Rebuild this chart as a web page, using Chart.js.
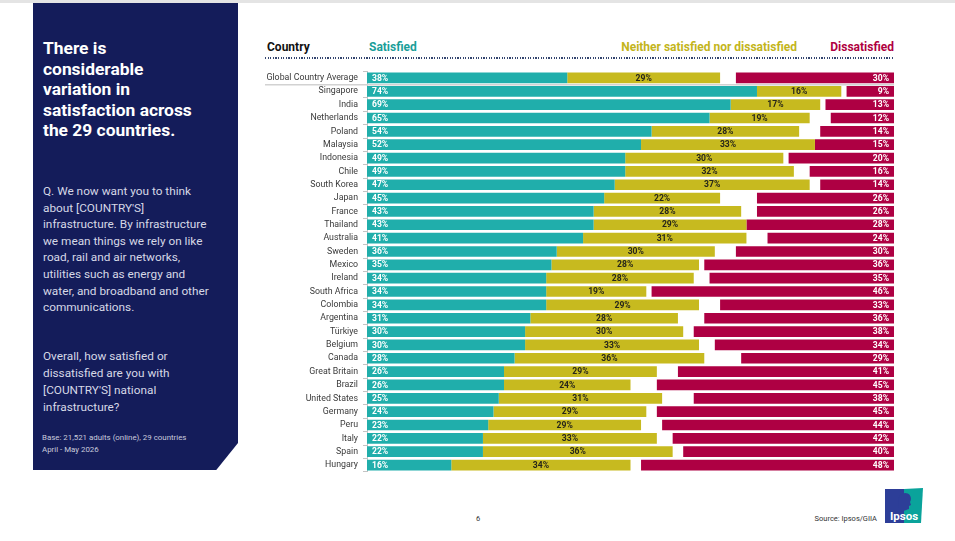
<!DOCTYPE html>
<html>
<head>
<meta charset="utf-8">
<script src="https://cdn.jsdelivr.net/npm/chart.js@4.4.1/dist/chart.umd.min.js"></script>
<style>
  html, body { margin: 0; padding: 0; background: #fff; }
  body { width: 955px; height: 541px; position: relative; overflow: hidden; font-family: Roboto, 'Noto Sans', sans-serif; }
  .topbar { position: absolute; left: 0; top: 0; width: 955px; height: 3px; background: #e4e4e4; }
  .panel {
    position: absolute; left: 33px; top: 3px; width: 205px; height: 467px; background: #141c5a;
    clip-path: polygon(0 0, 100% 0, 100% 94.2%, 89.4% 100%, 0 100%);
  }
  .abs { position: absolute; white-space: nowrap; }
  .title { left: 43px; top: 38px; color: #fff; font-weight: 700; font-size: 17.4px; line-height: 20.5px; }
  .body1 { left: 43px; top: 183px; color: #d6d8e6; font-size: 11.8px; line-height: 16.6px; }
  .body2 { left: 43px; top: 348px; color: #d6d8e6; font-size: 11.8px; line-height: 17px; }
  .base { left: 42px; top: 432px; color: #c9cbdc; font-size: 7.9px; line-height: 11.7px; }
  .hdr { top: 40px; font-weight: 700; font-size: 12px; line-height: 14px; }
  .dots {
    position: absolute; left: 265px; top: 57px; width: 629px; height: 1.5px;
    background: repeating-linear-gradient(90deg, #34456f 0 1.2px, transparent 1.2px 2.6px);
  }
  #chart { position: absolute; left: 260px; top: 61px; }
  .foot { top: 514px; font-size: 7.5px; color: #333; line-height: 10px; }
  .logo { position: absolute; left: 885px; top: 488px; width: 38px; height: 35px; }
</style>
</head>
<body>
<div class="topbar"></div>
<div class="panel"></div>
<div class="abs title">There is<br>considerable<br>variation in<br>satisfaction across<br>the 29 countries.</div>
<div class="abs body1">Q. We now want you to think<br>about [COUNTRY'S]<br>infrastructure. By infrastructure<br>we mean things we rely on like<br>road, rail and air networks,<br>utilities such as energy and<br>water, and broadband and other<br>communications.</div>
<div class="abs body2">Overall, how satisfied or<br>dissatisfied are you with<br>[COUNTRY'S] national<br>infrastructure?</div>
<div class="abs base">Base: 21,521 adults (online), 29 countries<br>April - May 2026</div>

<div class="abs hdr" style="left:267px;color:#111;">Country</div>
<div class="abs hdr" style="left:369px;color:#1a9e99;">Satisfied</div>
<div class="abs hdr" style="right:158px;color:#c3b51b;">Neither satisfied nor dissatisfied</div>
<div class="abs hdr" style="right:61px;color:#b0003f;">Dissatisfied</div>
<div class="dots"></div>

<canvas id="chart" width="640" height="421"></canvas>

<div class="abs foot" style="left:476px;">6</div>
<div class="abs foot" style="right:78px;">Source: Ipsos/GIIA</div>
<svg class="logo" viewBox="0 0 38 35">
  <polygon points="0,1 19,1 19,35 0,35" fill="#2d3e98"/>
  <polygon points="19,1 38,0 36,35 19,35" fill="#0aa39b"/>
  <path d="M14,20 C12,14 13,6 20,5 C26,5 27,11 25,14 L26,17 L24,18 L24,21 C22,22 19,22 18,24 L14,24 Z" fill="#2d3e98"/>
  <text x="19" y="32" text-anchor="middle" font-family="Roboto" font-weight="700" font-size="11.5" fill="#fff">Ipsos</text>
</svg>

<script>
const countries = ['Global Country Average', 'Singapore', 'India', 'Netherlands', 'Poland', 'Malaysia',
  'Indonesia', 'Chile', 'South Korea', 'Japan', 'France', 'Thailand', 'Australia', 'Sweden', 'Mexico',
  'Ireland', 'South Africa', 'Colombia', 'Argentina', 'Türkiye', 'Belgium', 'Canada', 'Great Britain',
  'Brazil', 'United States', 'Germany', 'Peru', 'Italy', 'Spain', 'Hungary'];

const satisfied = [38, 74, 69, 65, 54, 52, 49, 49, 47, 45, 43, 43, 41, 36, 35, 34, 34, 34, 31, 30, 30, 28, 26, 26, 25, 24, 23, 22, 22, 16];
const neither = [29, 16, 17, 19, 28, 33, 30, 32, 37, 22, 28, 29, 31, 30, 28, 28, 19, 29, 28, 30, 33, 36, 29, 24, 31, 29, 29, 33, 36, 34];
const dissatisfied = [30, 9, 13, 12, 14, 15, 20, 16, 14, 26, 26, 28, 24, 30, 36, 35, 46, 33, 36, 38, 34, 29, 41, 45, 38, 45, 44, 42, 40, 48];

const COLORS = {
  satisfied: '#20aeab',
  neither: '#c7ba1f',
  dissatisfied: '#ae0043'
};

// floating bars: satisfied from 0, neither stacked after it, dissatisfied pinned to the right end
const satRanges = satisfied.map(v => [0, v]);
const neiRanges = neither.map((v, i) => [satisfied[i], satisfied[i] + v]);
const disRanges = dissatisfied.map(v => [100 - v, 100]);

const valueLabels = {
  id: 'valueLabels',
  afterDatasetsDraw(chart) {
    const { ctx } = chart;
    ctx.save();
    ctx.font = '700 8.6px Roboto';
    ctx.textBaseline = 'middle';
    chart.data.datasets.forEach((ds, i) => {
      const meta = chart.getDatasetMeta(i);
      meta.data.forEach((bar, j) => {
        const text = `${ds.values[j]}%`;
        const left = Math.min(bar.x, bar.base);
        const right = Math.max(bar.x, bar.base);
        if (ds.pos === 'left') {
          ctx.fillStyle = '#fff';
          ctx.textAlign = 'left';
          ctx.fillText(text, left + 5, bar.y + 0.5);
        } else if (ds.pos === 'center') {
          ctx.fillStyle = '#26261a';
          ctx.textAlign = 'center';
          ctx.fillText(text, (left + right) / 2, bar.y + 0.5);
        } else {
          ctx.fillStyle = '#fff';
          ctx.textAlign = 'right';
          ctx.fillText(text, right - 5, bar.y + 0.5);
        }
      });
    });
    ctx.restore();
  }
};

const separator = {
  id: 'separator',
  beforeDatasetsDraw(chart) {
    const { ctx, chartArea } = chart;
    const y = chart.scales.y;
    const yy = (y.getPixelForValue(0) + y.getPixelForValue(1)) / 2;
    ctx.save();
    ctx.strokeStyle = '#d2d2d2';
    ctx.lineWidth = 1.5;
    ctx.beginPath();
    ctx.moveTo(5, yy);
    ctx.lineTo(chartArea.right, yy);
    ctx.stroke();
    ctx.restore();
  }
};

const barStyle = { grouped: false, barPercentage: 0.8, categoryPercentage: 1, borderWidth: 0 };

new Chart(document.getElementById('chart'), {
  type: 'bar',
  data: {
    labels: countries,
    datasets: [
      { label: 'Satisfied', data: satRanges, values: satisfied, pos: 'left', backgroundColor: COLORS.satisfied, ...barStyle },
      { label: 'Neither satisfied nor dissatisfied', data: neiRanges, values: neither, pos: 'center', backgroundColor: COLORS.neither, ...barStyle },
      { label: 'Dissatisfied', data: disRanges, values: dissatisfied, pos: 'right', backgroundColor: COLORS.dissatisfied, ...barStyle }
    ]
  },
  options: {
    indexAxis: 'y',
    responsive: false,
    animation: false,
    layout: { padding: { right: 6, left: 0, top: 0, bottom: 0 } },
    scales: {
      x: { display: false, min: 0, max: 100 },
      y: {
        afterFit: (scale) => { scale.width = 107; },
        border: { display: true, color: '#c4c4c4' },
        grid: { drawOnChartArea: false, drawTicks: true, tickLength: 4, color: '#c4c4c4', offset: true },
        ticks: { padding: 5, autoSkip: false, color: '#3a3a3a', font: { family: 'Roboto', size: 8.8 } }
      }
    },
    plugins: {
      legend: { display: false },
      tooltip: { enabled: false }
    }
  },
  plugins: [separator, valueLabels]
});
</script>
</body>
</html>
